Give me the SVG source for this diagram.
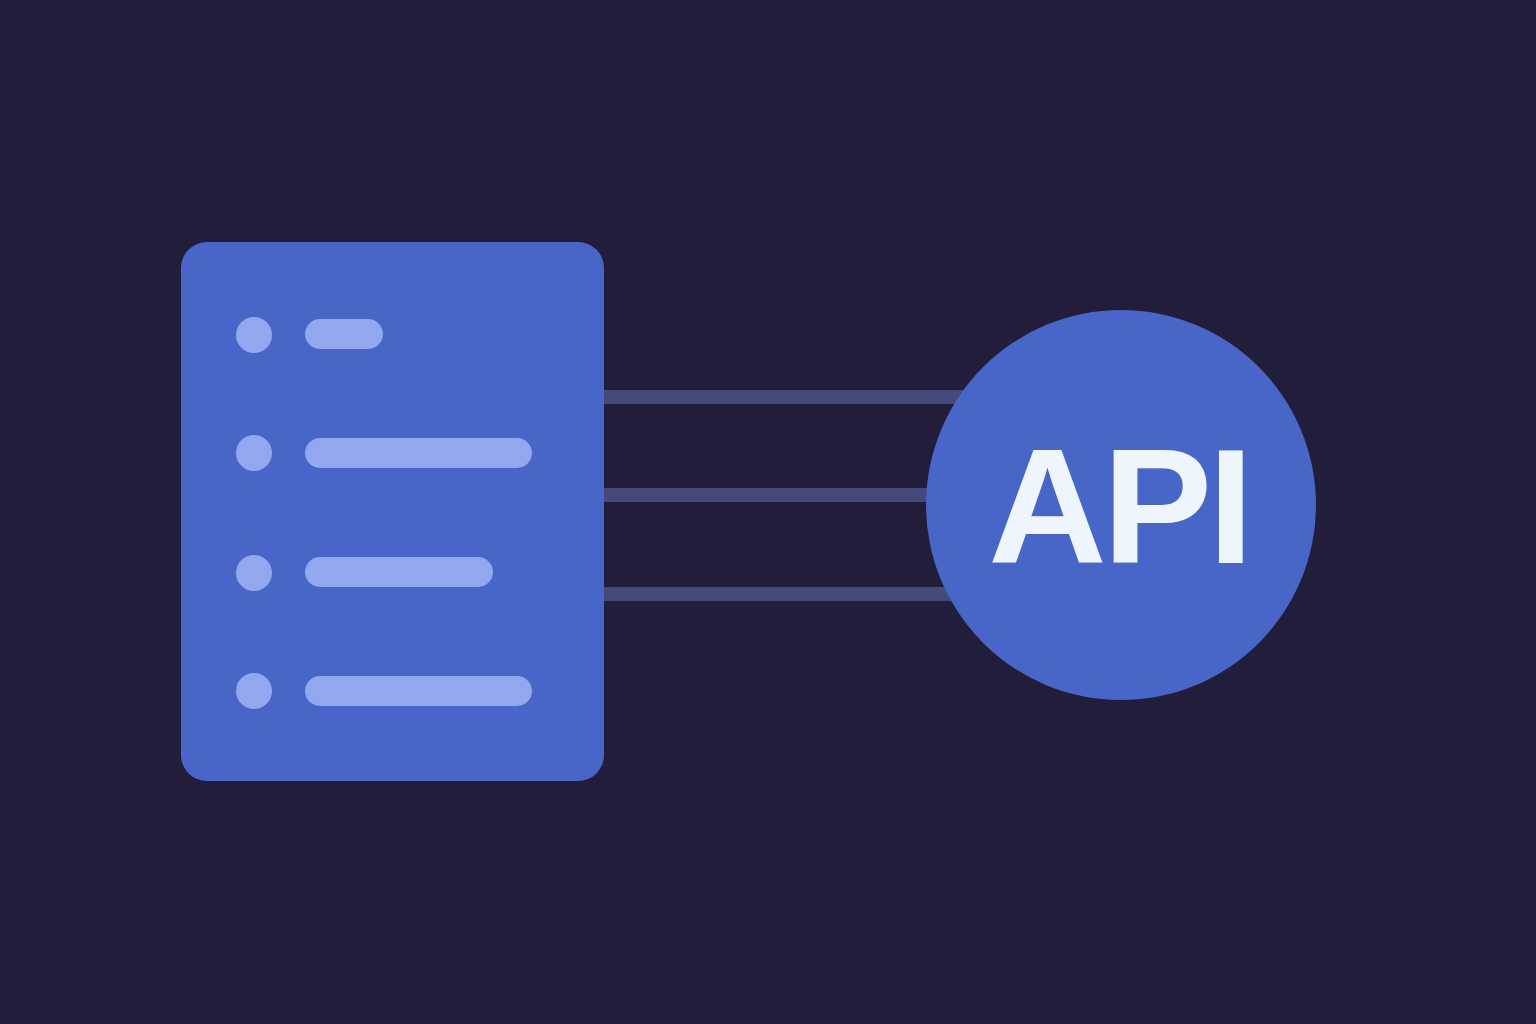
<svg xmlns="http://www.w3.org/2000/svg" width="1536" height="1024" viewBox="0 0 1536 1024">
<style>
.bg{fill:#221d3a}
.node{fill:#4866c8}
.dot{fill:#91a8ef}
.bar{fill:#91a8ef}
.conn{fill:#464a7a}
.label{font-family:"Liberation Sans",Arial,sans-serif;font-weight:bold;font-size:164px;letter-spacing:-4px;fill:#eef5fd}
</style>
<rect class="bg" x="0" y="0" width="1536" height="1024"/>
<g id="connectors">
<rect class="conn" x="600" y="390" width="380" height="14"/>
<rect class="conn" x="600" y="488" width="380" height="14"/>
<rect class="conn" x="600" y="587" width="380" height="14"/>
</g>
<g id="list-card">
<rect class="node" x="181" y="242" width="423" height="539" rx="26"/>
<circle class="dot" cx="254" cy="335" r="18"/>
<rect class="bar" x="305" y="319" width="78" height="30" rx="15"/>
<circle class="dot" cx="254" cy="453" r="18"/>
<rect class="bar" x="305" y="438" width="227" height="30" rx="15"/>
<circle class="dot" cx="254" cy="573" r="18"/>
<rect class="bar" x="305" y="557" width="188" height="30" rx="15"/>
<circle class="dot" cx="254" cy="691" r="18"/>
<rect class="bar" x="305" y="676" width="227" height="30" rx="15"/>
</g>
<g id="api-node">
<circle class="node" cx="1121" cy="505" r="195"/>
<text class="label" x="1119" y="563" text-anchor="middle">API</text>
</g>
</svg>
